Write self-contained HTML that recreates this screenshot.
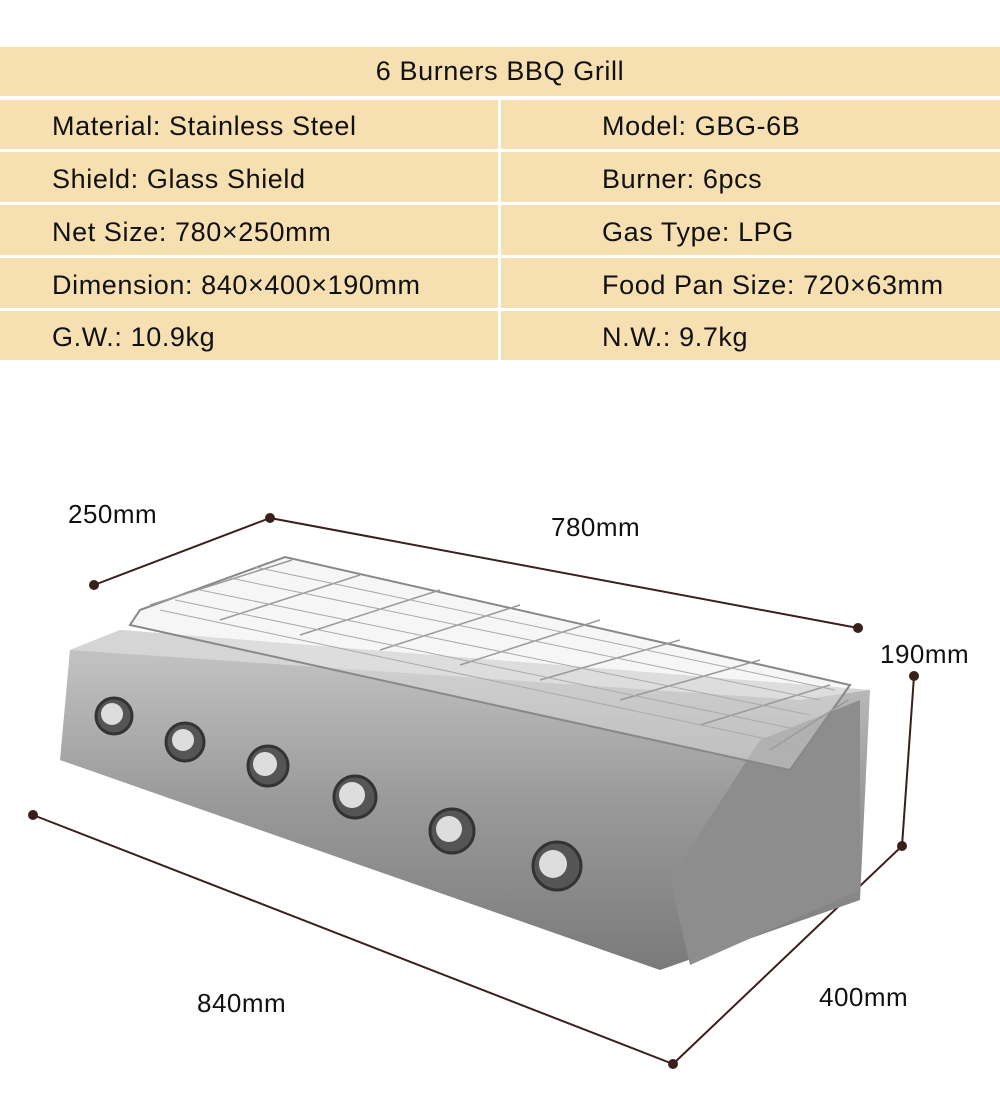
<!DOCTYPE html>
<html><head><style>
body{margin:0;width:1000px;height:1112px;background:#fff;position:relative;overflow:hidden;font-family:"Liberation Sans","DejaVu Sans",sans-serif;}
.c{position:absolute;background:#f6dfb1;color:#111;font-size:27px;letter-spacing:0.6px;display:flex;align-items:center;box-sizing:border-box;padding-left:52px;padding-top:4px}
.r{padding-left:602px;padding-left:101px}
.t{position:absolute;font-size:26px;letter-spacing:0.5px;color:#111}
</style></head><body>
<div class="c" style="left:0;top:47px;width:1000px;height:49px;justify-content:center;padding:0 0 0 0">6 Burners BBQ Grill</div>
<div class="c" style="left:0;top:100px;width:498px;height:49px">Material: Stainless Steel</div>
<div class="c r" style="left:501px;top:100px;width:499px;height:49px">Model: GBG-6B</div>
<div class="c" style="left:0;top:152px;width:498px;height:50px">Shield: Glass Shield</div>
<div class="c r" style="left:501px;top:152px;width:499px;height:50px">Burner: 6pcs</div>
<div class="c" style="left:0;top:205px;width:498px;height:50px">Net Size: 780×250mm</div>
<div class="c r" style="left:501px;top:205px;width:499px;height:50px">Gas Type: LPG</div>
<div class="c" style="left:0;top:258px;width:498px;height:50px">Dimension: 840×400×190mm</div>
<div class="c r" style="left:501px;top:258px;width:499px;height:50px">Food Pan Size: 720×63mm</div>
<div class="c" style="left:0;top:311px;width:498px;height:49px">G.W.: 10.9kg</div>
<div class="c r" style="left:501px;top:311px;width:499px;height:49px">N.W.: 9.7kg</div>

<svg width="1000" height="1112" style="position:absolute;left:0;top:0">
<defs><linearGradient id="g" x1="0" y1="0" x2="0" y2="1"><stop offset="0" stop-color="#c8c8c8"/><stop offset="0.5" stop-color="#9a9a9a"/><stop offset="1" stop-color="#7a7a7a"/></linearGradient></defs>
<g stroke="#3a1f1a" stroke-width="2" fill="#3a1f1a">
<line x1="94" y1="585" x2="270" y2="518"/><line x1="270" y1="518" x2="858" y2="628"/>
<line x1="914" y1="676" x2="902" y2="846"/><line x1="33" y1="815" x2="673" y2="1064"/><line x1="673" y1="1064" x2="902" y2="846"/>
<circle cx="94" cy="585" r="4"/><circle cx="270" cy="518" r="4"/><circle cx="858" cy="628" r="4"/><circle cx="914" cy="676" r="4"/><circle cx="902" cy="846" r="4"/><circle cx="33" cy="815" r="4"/><circle cx="673" cy="1064" r="4"/>
</g>
<polygon points="70,650 120,630 870,690 860,900 660,970 60,760" fill="url(#g)"/>
<polygon points="70,650 120,630 870,690 800,700" fill="#d5d5d5"/>
<polygon points="760,740 860,700 860,890 690,965 670,880" fill="#8d8d8d"/>
<polygon points="140,610 285,557 850,685 790,770 130,625" fill="#e8e8e8" fill-opacity="0.4" stroke="#888" stroke-width="2"/>
<g stroke="#9a9a9a" stroke-width="1.5">
<line x1="150" y1="605" x2="292" y2="560"/><line x1="220" y1="620" x2="360" y2="575"/><line x1="300" y1="635" x2="440" y2="590"/><line x1="380" y1="650" x2="520" y2="605"/><line x1="460" y1="665" x2="600" y2="620"/><line x1="540" y1="680" x2="680" y2="640"/><line x1="620" y1="700" x2="760" y2="660"/><line x1="700" y1="725" x2="830" y2="685"/><line x1="770" y1="750" x2="848" y2="700"/>
</g>
<g stroke="#aaa" stroke-width="1">
<line x1="230" y1="578" x2="820" y2="700"/><line x1="200" y1="590" x2="810" y2="715"/><line x1="175" y1="600" x2="800" y2="730"/><line x1="160" y1="610" x2="795" y2="745"/><line x1="255" y1="567" x2="835" y2="690"/>
</g>
<g fill="#555" stroke="#333" stroke-width="3">
<circle cx="114" cy="716" r="18"/><circle cx="185" cy="742" r="19"/><circle cx="268" cy="766" r="20"/><circle cx="355" cy="797" r="21"/><circle cx="452" cy="831" r="22"/><circle cx="557" cy="866" r="24"/>
</g>
<g fill="#ddd">
<circle cx="112" cy="714" r="11"/><circle cx="183" cy="740" r="11"/><circle cx="265" cy="764" r="12"/><circle cx="352" cy="795" r="13"/><circle cx="449" cy="829" r="13"/><circle cx="553" cy="864" r="14"/>
</g>
</svg>
<div class="t" style="left:68px;top:499px">250mm</div>
<div class="t" style="left:551px;top:512px">780mm</div>
<div class="t" style="left:880px;top:639px">190mm</div>
<div class="t" style="left:197px;top:988px">840mm</div>
<div class="t" style="left:819px;top:982px">400mm</div>
</body></html>
